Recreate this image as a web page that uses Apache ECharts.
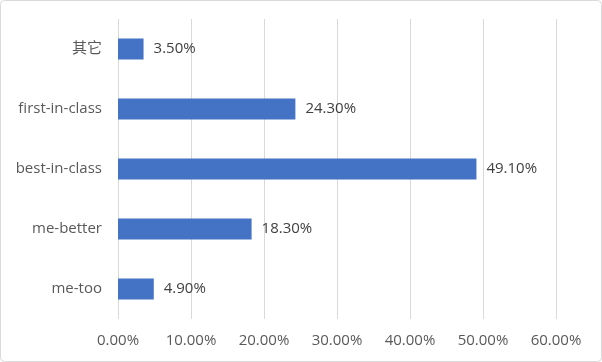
<!DOCTYPE html>
<html>
<head>
<meta charset="utf-8">
<script src="https://cdn.jsdelivr.net/npm/echarts@6/dist/echarts.min.js"></script>
<style>
html,body{margin:0;padding:0;background:#fff;}
#chart{width:602px;height:362px;}
</style>
</head>
<body>
<div id="chart"></div>
<script>
const categories = ['其它', 'first-in-class', 'best-in-class', 'me-better', 'me-too'];
const values = [3.5, 24.3, 49.1, 18.3, 4.9];
const xTicks = [0, 10, 20, 30, 40, 50, 60];

const font = "'Open Sans', 'Noto Sans CJK SC', sans-serif";
const chart = echarts.init(document.getElementById('chart'));
chart.setOption({
  animation: false,
  textStyle: { fontFamily: font },
  graphic: [{
    type: 'rect',
    shape: { x: 0.5, y: 0.5, width: 601, height: 361, r: 4 },
    style: { fill: 'none', stroke: '#d9d9d9', lineWidth: 1 },
    silent: true
  }],
  grid: { left: 118, right: 46, top: 19, bottom: 43, containLabel: false },
  xAxis: {
    type: 'value',
    min: xTicks[0],
    max: xTicks[xTicks.length - 1],
    interval: 10,
    axisLine: { show: false },
    axisTick: { show: false },
    splitLine: { show: true, lineStyle: { color: '#d9d9d9', width: 1 } },
    axisLabel: {
      color: '#595959', fontSize: 15, fontFamily: font, margin: 14,
      formatter: v => v.toFixed(2) + '%'
    }
  },
  yAxis: {
    type: 'category',
    inverse: true,
    data: categories,
    axisLine: { show: false },
    axisTick: { show: false },
    axisLabel: { color: '#595959', fontSize: 15, fontFamily: font, margin: 16 }
  },
  series: [{
    type: 'bar',
    data: values,
    barWidth: 21,
    itemStyle: { color: '#4472c4' },
    label: {
      show: true,
      position: 'right',
      distance: 10,
      color: '#404040',
      fontSize: 15,
      fontFamily: font,
      formatter: p => p.value.toFixed(2) + '%'
    }
  }]
});
</script>
</body>
</html>
